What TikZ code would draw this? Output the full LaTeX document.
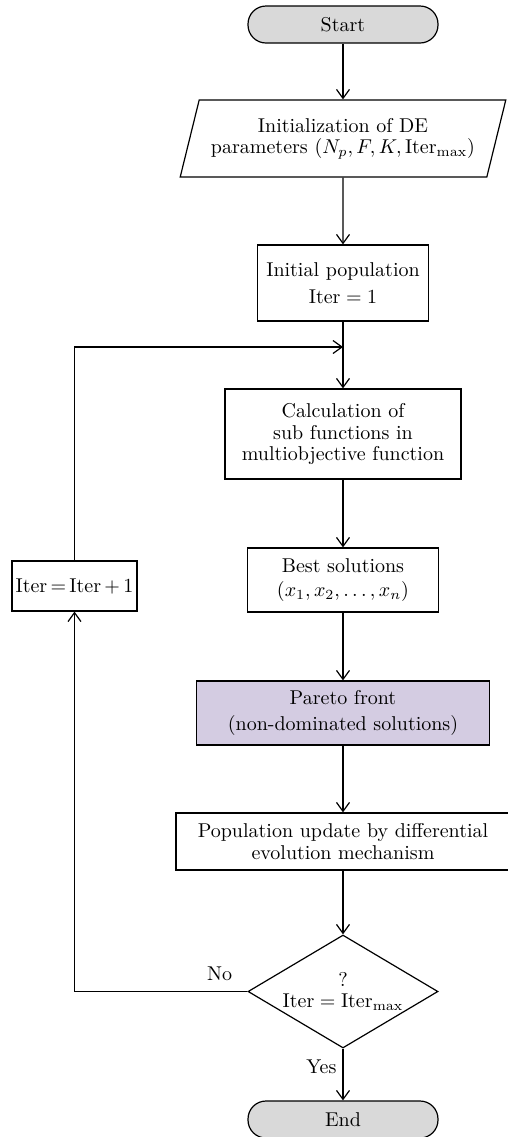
\documentclass[tikz,border=0pt]{standalone}
\usetikzlibrary{shapes.geometric,arrows.meta}
\definecolor{termgray}{RGB}{217,217,217}
\definecolor{paretolilac}{RGB}{212,204,226}
\newcommand{\itr}{\mathrm{Iter}}
\begin{document}
\begin{tikzpicture}[x=0.5pt,y=-0.5pt,line width=0.6pt,
    font=\fontsize{10}{10.6}\selectfont,
    every node/.style={align=center,inner sep=0pt},
    >={Straight Barb[length=4.5pt,width=6.5pt]},
    term/.style={draw,fill=termgray,rounded corners=9pt,minimum width=95pt,minimum height=18.5pt},
    inout/.style={draw,trapezium,trapezium left angle=67,trapezium right angle=113,
      trapezium stretches=true,minimum width=163pt,minimum height=38.5pt},
    proc/.style={draw,minimum width=#1},
    decision/.style={draw,diamond,aspect=1.68,minimum width=95pt,minimum height=56.5pt}]
      \useasboundingbox (0,0) rectangle (508,1137);
      \draw
        (343,24.5) node[term] (start){Start}
        (343,138.5) node[inout] (init){Initialization of DE\\parameters $(N_p, F, K, \itr_{\max})$}
        (343,283) node[proc=85.5pt,minimum height=38pt] (initpop){Initial population\\[3pt]$\itr = 1$}
        (343,347) coordinate (join)
        (343,434) node[proc=118pt,minimum height=45pt] (calc){Calculation of\\sub functions in\\multiobjective function}
        (343,580) node[proc=95.5pt,minimum height=32pt] (best){Best solutions\\[1.5pt]$(x_1, x_2, \ldots, x_n)$}
        (74.5,586) node[proc=62.5pt,minimum height=25pt] (inc){$\itr\,{=}\,\itr\,{+}\,1$}
        (343,713) node[proc=146.5pt,minimum height=32pt,fill=paretolilac] (pareto){Pareto front\\[2pt](non-dominated solutions)}
        (343,841.5) node[proc=167pt,minimum height=28.5pt] (update){Population update by differential\\evolution mechanism}
        (343,991.5) node[decision] (check){?\\$\itr = \itr_{\max}$}
        (343,1119.5) node[term] (end){End};
      \begin{scope}[->]
        \draw (start) to (init);
        \draw (init) to (initpop);
        \draw (initpop) to (calc);
        \draw (inc) |- (join);
        \draw (calc) to (best);
        \draw (best) to (pareto);
        \draw (pareto) to (update);
        \draw (update) to (check);
        \draw (check) to node[left,pos=0.36,xshift=-3pt]{Yes} (end);
        \draw (check) -| node[pos=0.08,above,yshift=5pt]{No} (inc);
      \end{scope}
    \end{tikzpicture}
\end{document}
